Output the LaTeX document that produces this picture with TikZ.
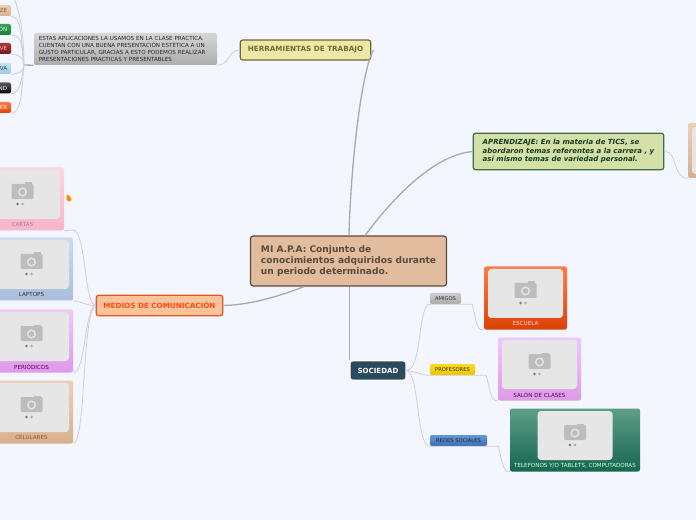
\documentclass[tikz,border=0pt]{standalone}
\usepackage{fontspec}
\setmainfont{DejaVu Sans}
\usepackage{xcolor}
\usepackage{tikz}

\definecolor{paper}{HTML}{F3F6FE}
\definecolor{branchgray}{HTML}{ABABAB}
\definecolor{twiggray}{HTML}{CDD0D8}
\definecolor{photogray}{HTML}{E6E6E6}
\definecolor{cameragray}{HTML}{BDBDBD}
\definecolor{mainfill}{HTML}{E2BC9F}
\definecolor{mainedge}{HTML}{5A4A3C}
\definecolor{maintext}{HTML}{5A4A3A}
\definecolor{toolfill}{HTML}{EDE9A3}
\definecolor{tooledge}{HTML}{6B6640}
\definecolor{tooltext}{HTML}{6F6C3C}
\definecolor{learnfill}{HTML}{D5DFA8}
\definecolor{learnedge}{HTML}{3F6B4F}
\definecolor{learntext}{HTML}{143C1E}
\definecolor{mediafill}{HTML}{F8C49C}
\definecolor{mediaedge}{HTML}{E8541E}
\definecolor{mediatext}{HTML}{FF4A0A}
\definecolor{socfill}{HTML}{2C4A5E}
% card gradients
\definecolor{pinktop}{HTML}{FFD3E2}
\definecolor{pinkbot}{HTML}{F8B4CC}
\definecolor{bluetop}{HTML}{CBDAEE}
\definecolor{bluebot}{HTML}{A9BFDC}
\definecolor{liltop}{HTML}{F2C6F8}
\definecolor{lilbot}{HTML}{DE9AE8}
\definecolor{tantop}{HTML}{EBD0B8}
\definecolor{tanbot}{HTML}{D8B08E}
\definecolor{redtop}{HTML}{FF7C45}
\definecolor{redbot}{HTML}{DC4208}
\definecolor{greentop}{HTML}{5E9E88}
\definecolor{greenbot}{HTML}{166650}
% tag gradients
\definecolor{yellowtop}{HTML}{FADC1E}
\definecolor{yellowbot}{HTML}{EEC400}
\definecolor{skytop}{HTML}{6496D8}
\definecolor{skybot}{HTML}{3A6EB4}
\definecolor{leaftop}{HTML}{35A555}
\definecolor{leafbot}{HTML}{1C7A38}
\definecolor{winetop}{HTML}{A83A38}
\definecolor{winebot}{HTML}{6E1C1C}
\definecolor{icetop}{HTML}{C4E4EE}
\definecolor{icebot}{HTML}{98CADB}

\tikzset{
	topic/.style={draw, line width=0.9pt, rounded corners=2pt, inner sep=0pt},
	tag/.style={rounded corners=1pt, minimum height=8.25pt, inner sep=0pt, font=\fontsize{3.9}{5}\selectfont, text=black!80},
	cutoff/.style={rounded corners=1.5pt, minimum height=8.25pt, minimum width=45pt, inner sep=0pt},
	card/.style={rounded corners=1.5pt, minimum height=47.25pt, inner sep=0pt},
	photo/.style={fill=photogray, rounded corners=2.5pt, minimum width=56.25pt, minimum height=36.75pt, inner sep=0pt},
	cardtext/.style={font=\fontsize{4.2}{5}\selectfont, inner sep=0pt},
	branch/.style={branchgray, line width=1pt},
	twig/.style={twiggray, line width=0.6pt}
}

\newcommand{\cameraicon}[2]{
	\fill[cameragray, rounded corners=0.8pt] (#1-11,#2-8) rectangle (#1+11,#2+7);
	\fill[cameragray] (#1+2,#2-9.5) rectangle (#1+9,#2-7);
	\fill[photogray] (#1,#2) circle (3.4pt);
	\fill[cameragray] (#1,#2) circle (2.2pt);
	\fill[black!55] (#1-5,#2+12) circle (1.1pt);
	\fill[black!35] (#1,#2+12) circle (1.1pt);
	\fill[black!8] (#1+5,#2+12) circle (1.1pt);
}

\begin{document}
\begin{tikzpicture}[x=0.75pt,y=-0.75pt]
\useasboundingbox (0,0) rectangle (696,520);
\clip (0,0) rectangle (696,520);
\fill[paper] (0,0) rectangle (696,520);

% the pictures with their captions
\foreach \name/\cx/\cy/\cw/\topc/\botc/\capc/\lab in {
	cartas/22.5/192/83/pinktop/pinkbot/magenta!60!black!70/CARTAS,
	laptops/31.5/262/83/bluetop/bluebot/black!80/LAPTOPS,
	periodicos/31.5/334/83/liltop/lilbot/violet!70!black/PERIÓDICOS,
	celulares/31.5/405/83/tantop/tanbot/brown!70!black/CELULARES,
	escuela/525.5/291/83/redtop/redbot/white!85!red/ESCUELA,
	salon/539.5/362/83/liltop/lilbot/violet!70!black/SALÓN DE CLASES,
	telefonos/575/433/130/greentop/greenbot/white!85!green/{TELEFONOS Y/O TABLETS, COMPUTADORAS}}
	{\node[card, top color=\topc, bottom color=\botc, minimum width=\cw*0.75pt](\name) at (\cx,\cy+7) {};
	\node[photo](photo\name) at (\cx,\cy+2.5) {};
	\cameraicon{\cx}{\cy}
	\node[cardtext, text=\capc](cap\name) at (\cx,\cy+32.5) {\lab};}

\node[card, top color=tantop, bottom color=tanbot, minimum width=62.25pt, minimum height=41.25pt](viaje) at (729.5,150.5) {};
\node[photo, minimum height=35.25pt](photoviaje) at (729.5,150.5) {};

% centre and main topics
\node[topic, fill=mainfill, draw=mainedge, text=maintext, minimum width=147pt, minimum height=37.5pt, align=left, font=\bfseries\fontsize{6.8}{8.25}\selectfont](mapa) at (348.5,261) {MI A.P.A: Conjunto de\\conocimientos adquiridos durante\\un periodo determinado.};
\node[topic, fill=toolfill, draw=tooledge, text=tooltext, minimum width=98pt, minimum height=15pt, font=\bfseries\fontsize{5.4}{7}\selectfont](tools) at (305.5,50) {HERRAMIENTAS DE TRABAJO};
\node[topic, fill=learnfill, draw=learnedge, text=learntext, minimum width=143pt, minimum height=27.5pt, align=left, font=\bfseries\itshape\fontsize{5.25}{6.4}\selectfont](learn) at (568.5,151.5) {APRENDIZAJE: En la materia de TICS, se\\abordaron temas referentes a la carrera , y\\así mismo temas de variedad personal.};
\node[topic, fill=mediafill, draw=mediaedge, text=mediatext, minimum width=95pt, minimum height=15.5pt, font=\bfseries\fontsize{5.4}{7}\selectfont](medios) at (159.5,305.5) {MEDIOS DE COMUNICACIÓN};
\node[topic, fill=socfill, draw=white, text=white, minimum width=42pt, minimum height=14.5pt, font=\bfseries\fontsize{5.3}{7}\selectfont](sociedad) at (378,370.5) {SOCIEDAD};

% tags of SOCIEDAD
\node[tag, top color=black!20, bottom color=black!33, minimum width=23.25pt](amigos) at (445.5,298.5) {AMIGOS};
\node[tag, top color=yellowtop, bottom color=yellowbot, minimum width=33.75pt](profesores) at (452.5,369.5) {PROFESORES};
\node[tag, top color=skytop, bottom color=skybot, text=black!85, minimum width=42.75pt](redes) at (458.5,440.5) {REDES SOCIALES};

% text beside the tools
\node[card, top color=black!16, bottom color=black!32, minimum width=137.25pt, minimum height=24pt, text width=130pt, align=left, font=\fontsize{4.2}{5.05}\selectfont, text=black!85](nota) at (125.5,49) {ESTAS APLICACIONES LA USAMOS EN LA CLASE PRACTICA.\\CUENTAN CON UNA BUENA PRESENTACIÓN ESTÉTICA A UN\\GUSTO PARTICULAR, GRACIAS A ESTO PODEMOS REALIZAR\\PRESENTACIONES PRACTICAS Y PRESENTABLES};

% applications cut by the left edge
\foreach \name/\y/\topc/\botc/\txtc/\txt in {
	ze/10.5/tantop/tanbot/brown!70!black/ZE,
	on/29.5/leaftop/leafbot/white!85!green/ON,
	ve/48.5/winetop/winebot/white!75!red/VE,
	va/68.5/icetop/icebot/blue!40!black!80/VA,
	nd/88/black!65/black/white/ND,
	er/107.5/redtop/redbot/white/ER}
	{\node[cutoff, top color=\topc, bottom color=\botc](\name) at (-19,\y) {};
	\node[anchor=east, inner sep=0pt, text=\txtc, font=\fontsize{4.2}{5}\selectfont](txt\name) at (7.5,\y) {\txt};}

\coordinate (hub) at (24,65);
\coordinate (offtop) at (14,-2);
\fill[orange!90!yellow] (66.5,199) .. controls (66,196) and (67,195) .. (67.5,194.5) .. controls (69,195.5) and (71.5,197) .. (71.5,199.5) .. controls (71,202) and (67.5,202.5) .. (66.5,199) -- cycle;

% connectors
\draw[branch] (mapa.89) .. controls (351,160) and (362,70) .. ([xshift=1.5pt]tools.east);
\draw[branch] (mapa.57) .. controls (395,195) and (435,155) .. (learn.west);
\draw[branch] (mapa.210) .. controls (280,296) and (250,305) .. (medios.east);
\draw[branch] (mapa.south -| sociedad.north west) -- (sociedad.north west);
\draw[twig] (learn.east) .. controls (678,151) and (672,178) .. (viaje.south west);
\draw[twig] (tools.west) .. controls (228,50) and (230,65) .. (nota.south east);
\draw[branch] (nota.south west) -- (hub);

\draw[twig] (hub) .. controls (21,55) and (24,16) .. (ze.south east);
\draw[twig] (hub) .. controls (22,45) and (22,35) .. (on.south east);
\draw[twig] (hub) .. controls (24,58) and (18,54) .. (ve.south east);
\draw[twig] (hub) .. controls (24,70) and (20,74) .. (va.south east);
\draw[twig] (hub) .. controls (22,78) and (20,94) .. (nd.south east);
\draw[twig] (hub) .. controls (22,85) and (22,114) .. (er.south east);
\draw[twig] (hub) .. controls (24,40) and (21,15) .. (offtop);

\draw[twig] (medios.west) .. controls (84,304) and (86,230) .. (73,230) -- (cartas.south east);
\draw[twig] (medios.west) .. controls (88,306) and (82,302) .. (laptops.south east);
\draw[twig] (medios.west) .. controls (84,310) and (86,372) .. (periodicos.south east);
\draw[twig] (medios.west) .. controls (82,312) and (86,443) .. (celulares.south east);

\draw[twig] (sociedad.east) .. controls (422,370) and (418,304) .. (amigos.south west) -- (amigos.south east) -- ++(11,0) .. controls (477,325) and (477,330) .. (escuela.south west);
\draw[twig] (sociedad.east) .. controls (418,372) and (420,375) .. (profesores.south west) -- (profesores.south east) -- ++(11,0) .. controls (491,395) and (491,401) .. (salon.south west);
\draw[twig] (sociedad.east) .. controls (420,375) and (416,446) .. (redes.south west) -- (redes.south east) -- ++(11,0) .. controls (503,465) and (503,472) .. (telefonos.south west);

\end{tikzpicture}
\end{document}
